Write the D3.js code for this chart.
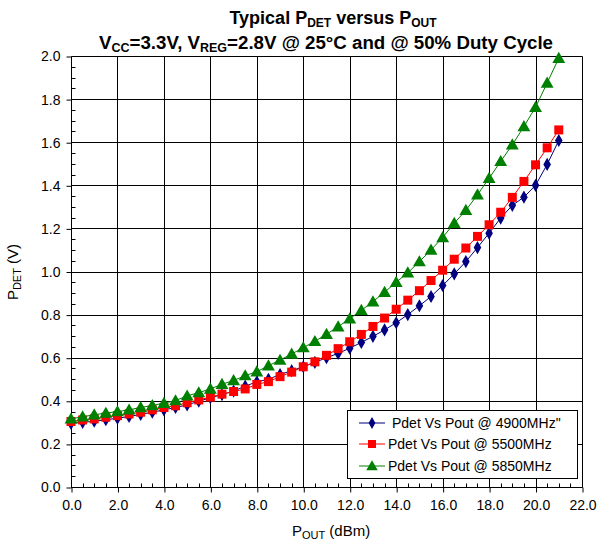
<!DOCTYPE html>
<html><head><meta charset="utf-8">
<script src="https://cdn.jsdelivr.net/npm/d3@7"></script>
<style>body{margin:0;background:#fff}svg{display:block;font-family:"Liberation Sans",Arial,sans-serif}</style>
</head><body><svg id="c" width="597" height="542"></svg>
<script>
const pout = d3.range(0, 21.01, 0.5);
const s4900 = [0.295,0.300,0.305,0.312,0.319,0.327,0.337,0.347,0.358,0.369,0.381,0.398,0.414,0.429,0.445,0.468,0.488,0.500,0.522,0.540,0.558,0.578,0.600,0.620,0.644,0.671,0.699,0.729,0.762,0.800,0.841,0.884,0.935,0.989,1.046,1.111,1.178,1.248,1.307,1.345,1.400,1.497,1.608];
const s5500 = [0.304,0.311,0.316,0.324,0.331,0.339,0.347,0.358,0.369,0.377,0.391,0.404,0.417,0.431,0.443,0.455,0.476,0.489,0.512,0.533,0.558,0.581,0.611,0.642,0.674,0.708,0.745,0.784,0.825,0.867,0.911,0.958,1.006,1.057,1.109,1.163,1.217,1.275,1.344,1.418,1.495,1.574,1.657];
const s5850 = [0.316,0.326,0.335,0.343,0.350,0.358,0.369,0.378,0.389,0.401,0.423,0.438,0.455,0.477,0.494,0.517,0.535,0.563,0.589,0.617,0.647,0.676,0.709,0.744,0.781,0.820,0.860,0.904,0.950,0.994,1.046,1.100,1.158,1.224,1.284,1.356,1.433,1.511,1.588,1.673,1.762,1.875,1.990];
const seriesNames = ['Pdet Vs Pout @ 4900MHz"', "Pdet Vs Pout @ 5500MHz", "Pdet Vs Pout @ 5850MHz"];
const xTicks = d3.range(0, 22.01, 2);
const yTicks = d3.range(0, 2.001, 0.2);

const svg = d3.select("#c");
const L = 71, R = 582, T = 56, B = 487;
const x = d3.scaleLinear().domain([0, 22]).range([L, R]);
const y = d3.scaleLinear().domain([0, 2]).range([B, T]);
const px = v => Math.round(x(v)) + 0.5;
const py = v => Math.round(y(v)) + 0.5;

// grid
const g = svg.append("g");
xTicks.forEach(t => g.append("line").attr("x1", px(t)).attr("x2", px(t)).attr("y1", py(0)).attr("y2", py(2)).attr("stroke", "#000").attr("stroke-width", 1));
yTicks.forEach(t => g.append("line").attr("x1", px(0)).attr("x2", px(22)).attr("y1", py(t)).attr("y2", py(t)).attr("stroke", "#000").attr("stroke-width", 1));

// axes
const xAxis = d3.axisBottom(x).tickValues(xTicks).tickFormat(d3.format(".1f")).tickSize(5).tickPadding(8);
const xa = svg.append("g").attr("transform", `translate(0.5,${py(0)})`).call(xAxis);
const yAxis = d3.axisLeft(y).tickValues(yTicks).tickFormat(d3.format(".1f")).tickSize(5).tickPadding(6);
const ya = svg.append("g").attr("transform", `translate(${px(0)},0.5)`).call(yAxis);
[xa, ya].forEach(a => { a.select(".domain").remove(); a.selectAll("line").attr("stroke", "#000"); a.selectAll("text").attr("font-size", 14).attr("fill", "#000").attr("font-family", "Liberation Sans, Arial, sans-serif"); });
// minor ticks (inward)
const xMinor = d3.range(0, 22.01, 0.5);
xMinor.forEach(t => svg.append("line").attr("x1", px(t)).attr("x2", px(t)).attr("y1", py(0)).attr("y2", py(0) - 4).attr("stroke", "#000"));
const yMinor = d3.range(0, 2.001, 0.05);
yMinor.forEach(t => svg.append("line").attr("x1", px(0)).attr("x2", px(0) + 4).attr("y1", py(t)).attr("y2", py(t)).attr("stroke", "#000"));

// series
const colors = ["#000080", "#FF0000", "#008000"];
const data = [s4900, s5500, s5850];
const sym = [d3.symbolDiamond, d3.symbolSquare, d3.symbolTriangle];
const sizes = [50, 81, 72];
const line = d3.line().x((d, i) => x(pout[i])).y(d => y(d));
data.forEach((s, k) => {
  svg.append("path").datum(s).attr("d", line).attr("fill", "none").attr("stroke", colors[k]).attr("stroke-width", 1);
  svg.append("g").selectAll("path").data(s).join("path")
    .attr("transform", (d, i) => `translate(${x(pout[i])},${y(d) + (k === 2 ? 1 : 0)})`)
    .attr("d", d3.symbol().type(sym[k]).size(sizes[k])).attr("fill", colors[k]);
});

// legend
const lg = svg.append("g");
lg.append("rect").attr("x", 347.5).attr("y", 410.5).attr("width", 230).attr("height", 68).attr("fill", "#fff").attr("stroke", "#000").attr("stroke-width", 1);
const rowsY = [423, 444, 466];
seriesNames.forEach((n, k) => {
  lg.append("line").attr("x1", 359).attr("x2", 385).attr("y1", rowsY[k]).attr("y2", rowsY[k]).attr("stroke", colors[k]);
  lg.append("path").attr("transform", `translate(372,${rowsY[k] + (k === 2 ? 1 : 0)})`).attr("d", d3.symbol().type(sym[k]).size(sizes[k] * 0.8)).attr("fill", colors[k]);
  lg.append("text").attr("x", k === 0 ? 392 : 388).attr("y", rowsY[k] + 5).attr("font-size", 14).text(n);
});

// titles
const t1 = svg.append("text").attr("x", 333).attr("y", 24).attr("text-anchor", "middle").attr("font-size", 18).attr("font-weight", "bold");
t1.append("tspan").text("Typical P");
t1.append("tspan").attr("font-size", 12).attr("dy", 3).text("DET");
t1.append("tspan").attr("dy", -3).text(" versus P");
t1.append("tspan").attr("font-size", 12).attr("dy", 3).text("OUT");
const t2 = svg.append("text").attr("x", 326).attr("y", 49).attr("text-anchor", "middle").attr("font-size", 18.7).attr("font-weight", "bold");
t2.append("tspan").text("V");
t2.append("tspan").attr("font-size", 12.5).attr("dy", 3).text("CC");
t2.append("tspan").attr("dy", -3).text("=3.3V, V");
t2.append("tspan").attr("font-size", 12.5).attr("dy", 3).text("REG");
t2.append("tspan").attr("dy", -3).text("=2.8V @ 25°C and @ 50% Duty Cycle");

// axis titles
const xt = svg.append("text").attr("x", 331).attr("y", 536).attr("text-anchor", "middle").attr("font-size", 15);
xt.append("tspan").text("P");
xt.append("tspan").attr("font-size", 11).attr("dy", 3).text("OUT");
xt.append("tspan").attr("dy", -3).text(" (dBm)");
const yt = svg.append("text").attr("transform", "translate(18,272) rotate(-90)").attr("text-anchor", "middle").attr("font-size", 15);
yt.append("tspan").text("P");
yt.append("tspan").attr("font-size", 11).attr("dy", 3).text("DET");
yt.append("tspan").attr("dy", -3).text(" (V)");
</script></body></html>
